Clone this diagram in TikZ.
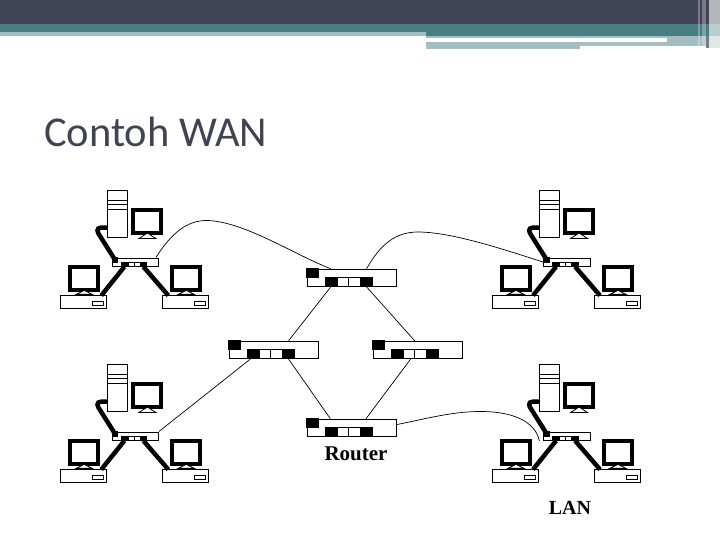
\documentclass[tikz,border=0pt]{standalone}
\usepackage{fontspec}
\setmainfont{Liberation Serif}
\newfontfamily\titlefont{Carlito}
\definecolor{banddark}{HTML}{404356}
\definecolor{bandteal}{HTML}{467E84}
\definecolor{bandlight}{HTML}{A3BDC0}
\definecolor{titlegray}{HTML}{404452}
\tikzset{
  hubbox/.style={draw, line width=1pt, inner sep=0pt, minimum width=46.3, minimum height=8.4},
  hubport/.style={draw, line width=0.8pt, inner sep=0pt, minimum height=4.4, minimum width=6.6, anchor=south west},
  routerbox/.style={draw, line width=1pt, inner sep=0pt, minimum width=89, minimum height=17.4, anchor=north west},
  routerport/.style={draw, line width=0.9pt, inner sep=0pt, minimum height=8.6, minimum width=12, anchor=south west},
  blackpart/.style={fill=black},
  screenbox/.style={draw, line width=4pt, inner sep=0pt, minimum width=28, minimum height=23.3},
  basebox/.style={draw, line width=1pt, inner sep=0pt, minimum width=46, minimum height=13.4},
  slotbox/.style={draw, line width=1pt, inner sep=0pt, minimum width=11, minimum height=4.4},
  towerbox/.style={draw, line width=1pt, inner sep=0pt, minimum width=19.6, minimum height=47},
  towerline/.style={line width=0.9pt},
  cable/.style={line width=4.5pt},
  wire/.style={line width=0.7pt},
  stand/.style={draw, fill=white, line width=0.8pt},
  label/.style={inner sep=0pt, font=\bfseries\fontsize{20}{24}\selectfont}
}
\begin{document}
\begin{tikzpicture}[x=1pt,y=-1pt]
\useasboundingbox (0,0) rectangle (720,540);
% header band
\fill[banddark] (0,0) rectangle (720,24);
\fill[bandteal] (0,24) rectangle (720,32);
\fill[bandteal] (426,32) rectangle (720,36);
\fill[bandlight] (0,32) rectangle (426,36);
\fill[bandlight] (426,36) rectangle (708,46);
\fill[white] (426,38.5) rectangle (667,42);
\fill[bandlight] (426,42) rectangle (580,49);
\fill[white] (580,46) rectangle (708,49);
\fill[white,opacity=.62] (709,0) rectangle (720,36);
\fill[bandteal!18] (709,36) rectangle (720,48);
\fill[white,opacity=.3] (698,0) rectangle (700,46);
\fill[white,opacity=.3] (702,0) rectangle (706,46);
\fill[banddark!70] (706,36) rectangle (709,48);
\node[inner sep=0pt, anchor=base west, text=titlegray, font=\titlefont\fontsize{42.5}{52}\selectfont] (title) at (44,147) {Contoh WAN};

% the four lans
\foreach \lanname/\dx/\dy in {lantl/0/0, lantr/431.7/0, lanbl/0/174, lanbr/431.7/174}{
  \begin{scope}[shift={(\dx,\dy)}]
    \node[towerbox] (\lanname-tower) at (117.5,213.9) {};
    \draw[towerline] (107.5,200) -- (127.5,200);
    \draw[towerline] (107.5,204.5) -- (127.5,204.5);
    \draw[towerline] (107.5,209) -- (127.5,209);
    \node[screenbox] (\lanname-screen) at (147.4,221.4) {};
    \draw[stand] ([xshift=-8.5,yshift=-3.5]\lanname-screen.south) -- ([yshift=2]\lanname-screen.south) -- ([xshift=8.5,yshift=-3.5]\lanname-screen.south) -- cycle;
    \node[hubbox] (\lanname-hub) at (135.3,262.2) {};
    \fill[black] (111.7,257.3) rectangle (118,262.5);
    \node[hubport,blackpart] (\lanname-a) at (120.7,266.7) {};
    \node[hubport,minimum width=6] (\lanname-b) at (127.7,266.7) {};
    \node[hubport,minimum width=6] (\lanname-c) at (133.7,266.7) {};
    \node[hubport,blackpart] (\lanname-d) at (139.7,266.7) {};
    % pcs under the hub
    \foreach \pcname/\pcx in {left/0, right/102}{
      \node[screenbox] (\lanname-\pcname-screen) at (84.2+\pcx,278.7) {};
      \draw[stand] ([xshift=-8,yshift=-2]\lanname-\pcname-screen.south) -- ([yshift=2]\lanname-\pcname-screen.south) -- ([xshift=8,yshift=-2]\lanname-\pcname-screen.south) -- cycle;
      \node[basebox] (\lanname-\pcname) at (83.8+\pcx,302.2) {};
      \node[slotbox] (\lanname-\pcname-slot) at (98.2+\pcx,303.2) {};
    }
    \draw[cable] (114.5,259) -- (100,236) .. controls (97,232) and (96,228) .. (101,227.7) -- ([yshift=-13.8]\lanname-tower.west);
    \draw[cable] (\lanname-a.south) -- ([xshift=-6,yshift=-0.5]\lanname-left.north east);
    \draw[cable] (\lanname-d.south) -- ([xshift=6,yshift=-0.5]\lanname-right.north west);
  \end{scope}
}

% the routers
\foreach \routername/\dx/\dy in {routertop/0/0, routerleft/-78/72, routerright/66/72, routerbottom/0/150}{
  \begin{scope}[shift={(\dx,\dy)}]
    \node[routerbox] (\routername) at (306.6,268.7) {};
    \fill[black] (306.3,268.3) rectangle (319,277.7);
    \node[routerport,blackpart] (\routername-a) at (324.6,286.5) {};
    \node[routerport,minimum width=11.6] (\routername-b) at (336.6,286.5) {};
    \node[routerport,minimum width=11.6] (\routername-c) at (348.2,286.5) {};
    \node[routerport,blackpart] (\routername-d) at (359.8,286.5) {};
  \end{scope}
}
\node[label,font=\bfseries\fontsize{21}{24}\selectfont] (routerlabel) at (356,454) {Router};
\node[label] (lanlabel) at (570,508) {LAN};

% the wires
\draw[wire] (routertop-a.south) -- ([xshift=15]routerleft.north);
\draw[wire] (routertop-d.south) -- ([xshift=-3]routerright.north);
\draw[wire] ([xshift=15]routerleft.south) -- ([xshift=-21.3]routerbottom.north);
\draw[wire] ([xshift=-7]routerright.south) -- ([xshift=14.4]routerbottom.north);
\draw[wire] ([xshift=-23.3]routerleft.south) -- (lanbl-hub.north east);
\draw[wire] ([xshift=-3]lantl-hub.north east) .. controls (172,232) and (188,220) .. (208,220.5) .. controls (245,222) and (295,255) .. ([xshift=-21]routertop.north);
\draw[wire] ([xshift=15]routertop.north) .. controls (380,245) and (395,232) .. (418,232) .. controls (450,232) and (500,248) .. (lantr-hub.west);
\draw[wire] ([yshift=3.3]routerbottom.east) .. controls (425,419) and (450,412) .. (478,411.5) .. controls (510,411) and (535,420) .. ([xshift=-4]lanbr-hub.south west);
\end{tikzpicture}
\end{document}
